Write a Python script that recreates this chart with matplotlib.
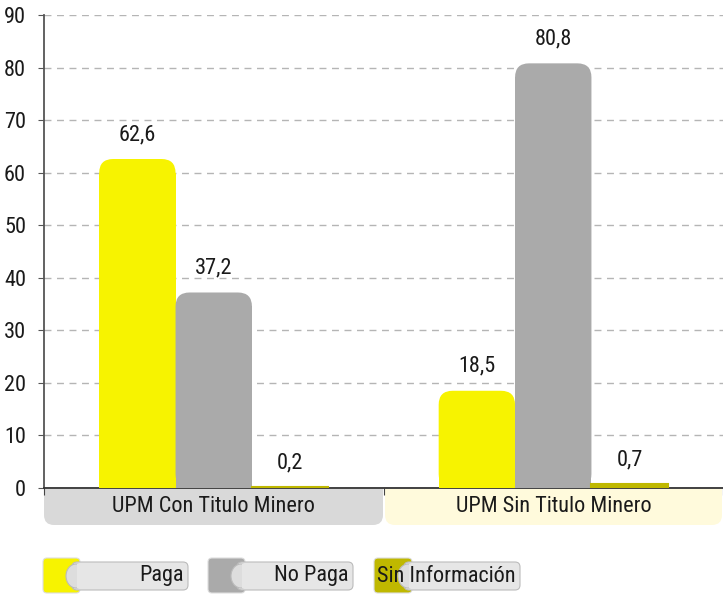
import numpy as np, matplotlib
matplotlib.use("Agg"); import matplotlib.pyplot as plt
from matplotlib.patches import FancyBboxPatch, Rectangle, Ellipse
from matplotlib import font_manager

# data
cats=["UPM Con Titulo Minero","UPM Sin Titulo Minero"]
series=["Paga","No Paga","Sin Información"]
paga=[62.6,18.5]
no_paga=[37.2,80.8]
sin_info=[0.2,0.7]
colors=["#F7F300","#AAAAAA","#BFB800"]
cat_bg=["#D9D9D9","#FFFADC"]

names={f.name for f in font_manager.fontManager.ttflist}
fam=[f for f in ["Liberation Sans Narrow","Roboto Condensed","DejaVu Sans"] if f in names]
plt.rcParams["font.family"]=fam+["DejaVu Sans"]
FS=16

W,H=723,598
fig=plt.figure(figsize=(W/100,H/100),dpi=100)
ax=fig.add_axes([44/W,1-488/H,679/W,473/H])
ax.set_xlim(0,2); ax.set_ylim(0,90)
ax.patch.set_facecolor("none")

w=0.225
rx=14*2/679; ry=14*90/473
for i,(vals,c) in enumerate(zip([paga,no_paga,sin_info],colors)):
    xs=np.arange(len(cats))+0.5+(i-1)*w
    bars=ax.bar(xs,vals,w,color=c,zorder=3)
    for b,v in zip(bars,vals):
        x0=b.get_x()
        if v>ry*1.5:
            b.set_visible(False)
            ax.add_patch(FancyBboxPatch((x0,0),w,v,boxstyle=f"round,pad=0,rounding_size={rx}",
                                        mutation_aspect=ry/rx,fc=c,ec="none",zorder=3))
            ax.add_patch(Rectangle((x0,0),w,v-ry,fc=c,ec="none",zorder=3))
        else:
            b.set_edgecolor(c); b.set_linewidth(1.5)
        ax.annotate(f"{v:.1f}".replace(".",","),(x0+w/2,v),xytext=(0,10),textcoords="offset points",
                    ha="center",va="bottom",fontsize=FS,color="#1a1a1a")

ax.set_yticks(range(0,100,10))
ax.tick_params(axis="y",labelsize=FS,length=4,pad=9,color="#555",labelcolor="#1a1a1a")
ax.set_xticks([0,1,2]); ax.set_xticklabels([])
ax.tick_params(axis="x",length=5,color="#444")
ax.yaxis.grid(True,ls=(0,(5,4)),color="#B5B5B5",lw=1)
ax.set_axisbelow(True)
for s in ["top","right"]: ax.spines[s].set_visible(False)
ax.spines["left"].set_color("#555"); ax.spines["left"].set_linewidth(1.3)
ax.spines["bottom"].set_color("#333"); ax.spines["bottom"].set_linewidth(1.3)

T=fig.dpi_scale_trans
def box(x0,y0,x1,y1,fc,r,ec="none",z=-1):
    fig.add_artist(FancyBboxPatch((x0/100,(H-y1)/100),(x1-x0)/100,(y1-y0)/100,
                  boxstyle=f"round,pad=0,rounding_size={r/100}",transform=T,fc=fc,ec=ec,lw=0.8,zorder=z))

# category boxes
for (x0,x1),c,lab in zip([(44,383),(385,722)],cat_bg,cats):
    box(x0,489,x1,525,c,10)
    fig.add_artist(Rectangle((x0/100,(H-505)/100),(x1-x0)/100,16/100,transform=T,fc=c,ec="none",zorder=-1))
    fig.text((x0+x1)/2/W,1-507/H,lab,ha="center",va="center",fontsize=FS,color="#1a1a1a")

# legend
for (cx0,cx1,bx1),c,lab in zip([(43,80,188),(208,245,353),(374,412,520)],colors,series):
    box(cx0,558,cx1,593,c,4,ec="#DDDDDD",z=1)
    box(cx1-8,562,bx1,590,"#E6E6E6",5,ec="#BBBBBB",z=2)
    fig.add_artist(Ellipse(((cx1-4)/100,(H-576)/100),0.2,0.24,transform=T,fc="#DDDDDD",ec="#BBBBBB",lw=0.8,zorder=2.5))
    fig.add_artist(Rectangle(((cx1-3)/100,(H-588)/100),0.12,0.24,transform=T,fc="#E6E6E6",ec="none",zorder=2.6))
    fig.text((bx1-4)/W,1-576/H,lab,ha="right",va="center",fontsize=FS,color="#1a1a1a",zorder=3)

fig.savefig("out.png",dpi=100)
